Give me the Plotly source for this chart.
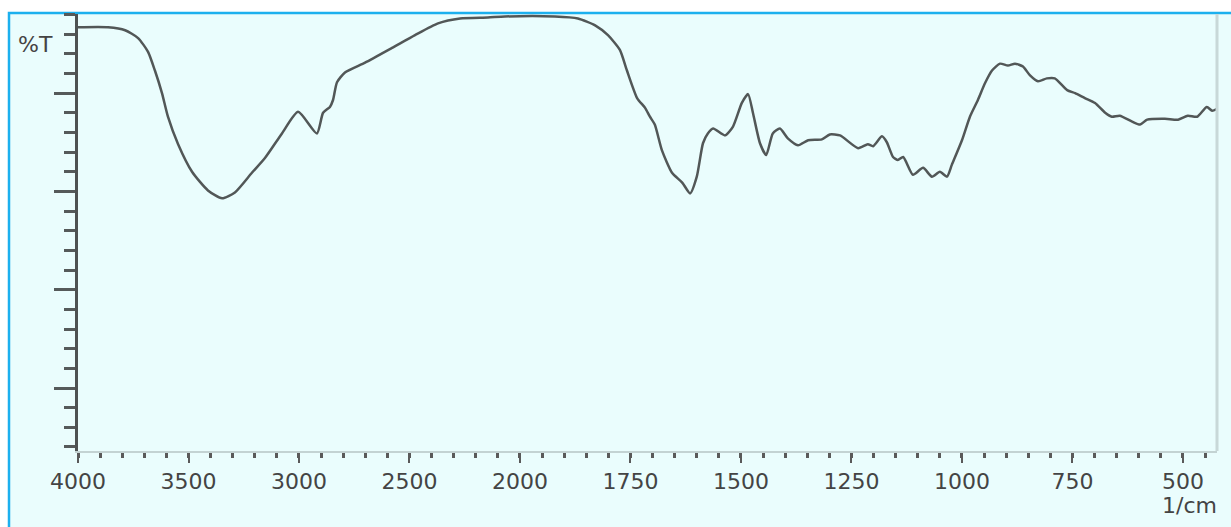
import plotly.graph_objects as go

# Wavenumber (1/cm) and transmittance (%T, arbitrary units)
wavenumber = [4000, 3864, 3787, 3728, 3683, 3652, 3620, 3593, 3547, 3484, 3412, 3348, 3290, 3213,
              3154, 3077, 3004, 2919, 2891, 2860, 2846, 2828, 2792, 2701, 2579, 2475, 2371, 2271,
              2145, 2068, 1921, 1869, 1830, 1801, 1774, 1758, 1735, 1717, 1706, 1695, 1679, 1656,
              1633, 1615, 1600, 1586, 1575, 1563, 1536, 1518, 1498, 1484, 1473, 1457, 1443, 1428,
              1412, 1394, 1371, 1348, 1317, 1299, 1276, 1235, 1213, 1201, 1181, 1170, 1156, 1145,
              1133, 1111, 1088, 1068, 1050, 1034, 1023, 1000, 982, 964, 948, 932, 914, 896, 880,
              862, 846, 828, 808, 790, 762, 744, 722, 699, 676, 661, 643, 615, 597, 581, 541, 511,
              489, 468, 446, 434, 423]
transmittance = [36.7, 36.7, 36.4, 35.6, 34.2, 32.3, 30.0, 27.6, 24.8, 22.0, 20.1, 19.3, 19.9, 21.9,
                 23.4, 25.9, 28.1, 25.9, 28.0, 28.6, 29.3, 31.1, 32.1, 33.1, 34.6, 35.9, 37.1, 37.6,
                 37.7, 37.8, 37.8, 37.6, 36.9, 35.9, 34.4, 32.3, 29.5, 28.5, 27.6, 26.8, 24.2, 21.9,
                 20.9, 19.8, 21.5, 24.9, 25.9, 26.4, 25.7, 26.6, 29.0, 29.9, 28.0, 24.9, 23.7, 25.9,
                 26.4, 25.4, 24.7, 25.2, 25.3, 25.8, 25.7, 24.4, 24.8, 24.6, 25.6, 25.0, 23.5, 23.2,
                 23.5, 21.7, 22.4, 21.5, 22.0, 21.5, 22.7, 25.2, 27.6, 29.3, 31.0, 32.3, 33.0, 32.8, 33.0,
                 32.7, 31.8, 31.2, 31.5, 31.5, 30.3, 30.0, 29.5, 29.0, 28.0, 27.6, 27.7, 27.1, 26.8, 27.3, 27.4, 27.3,
                 27.7, 27.6, 28.6, 28.2, 28.4]

x_tick_labels = [4000, 3500, 3000, 2500, 2000, 1750, 1500, 1250, 1000, 750, 500]
x_min_wn = 423


def to_axis(w):
    # FTIR scale: 500 cm-1 per division above 2000, 250 cm-1 per division below
    return (4000 - w) / 500 if w >= 2000 else 4 + (2000 - w) / 250


W, H = 1231, 527
L, R, T, B = 78, 14, 14, 76
pw, ph = W - L - R, H - T - B


def px(xp):
    return (xp - L) / pw


def py(yp):
    return (H - B - yp) / ph


line_col = "#525757"
text_col = "#444444"
font = "DejaVu Sans"

fig = go.Figure()
fig.add_trace(go.Scatter(
    x=[to_axis(w) for w in wavenumber], y=transmittance, mode="lines",
    line=dict(color=line_col, width=2.5, shape="spline", smoothing=0.6),
    hoverinfo="skip", showlegend=False))

fig.update_layout(
    width=W, height=H, margin=dict(l=L, r=R, t=T, b=B),
    paper_bgcolor="white", plot_bgcolor="#eafdfd",
    xaxis=dict(range=[0, to_axis(x_min_wn)], showgrid=False, zeroline=False,
               showline=True, linecolor="#c3d3d3", linewidth=2,
               tickmode="array", tickvals=[to_axis(v) for v in x_tick_labels],
               ticktext=[str(v) for v in x_tick_labels],
               ticks="outside", ticklen=10, tickwidth=2, tickcolor="#5a5a5a",
               minor=dict(ticks="outside", tick0=0, dtick=0.2, ticklen=5, tickwidth=2.5,
                          tickcolor="#5a5a5a", showgrid=False),
               tickfont=dict(family=font, size=22, color=text_col)),
    yaxis=dict(range=[-6.41, 38.05], showgrid=False, zeroline=False,
               showline=True, linecolor="#4d5252", linewidth=3,
               tickmode="array", tickvals=[0, 10, 20, 30], showticklabels=False,
               ticks="outside", ticklen=21, tickwidth=2.5, tickcolor="#555a5a",
               minor=dict(ticks="outside", tick0=0, dtick=2, ticklen=11, tickwidth=2.5,
                          tickcolor="#555a5a", showgrid=False)),
    shapes=[
        dict(type="rect", xref="paper", yref="paper", x0=px(9), x1=px(1245), y0=py(13), y1=py(545),
             fillcolor="#eafdfd", line=dict(color="#1cb0ee", width=2.5), layer="below"),
        dict(type="line", xref="paper", yref="paper", x0=1, x1=1, y0=0, y1=1,
             line=dict(color="#c8d8d8", width=3)),
    ],
    annotations=[
        dict(text="%T", xref="paper", yref="paper", x=px(35), y=py(44), showarrow=False,
             xanchor="center", yanchor="middle", font=dict(family=font, size=22, color=text_col)),
        dict(text="1/cm", xref="paper", yref="paper", x=px(1219), y=py(506), showarrow=False,
             xanchor="right", yanchor="middle", font=dict(family=font, size=22, color=text_col)),
    ],
)

fig.write_html("out.html")
